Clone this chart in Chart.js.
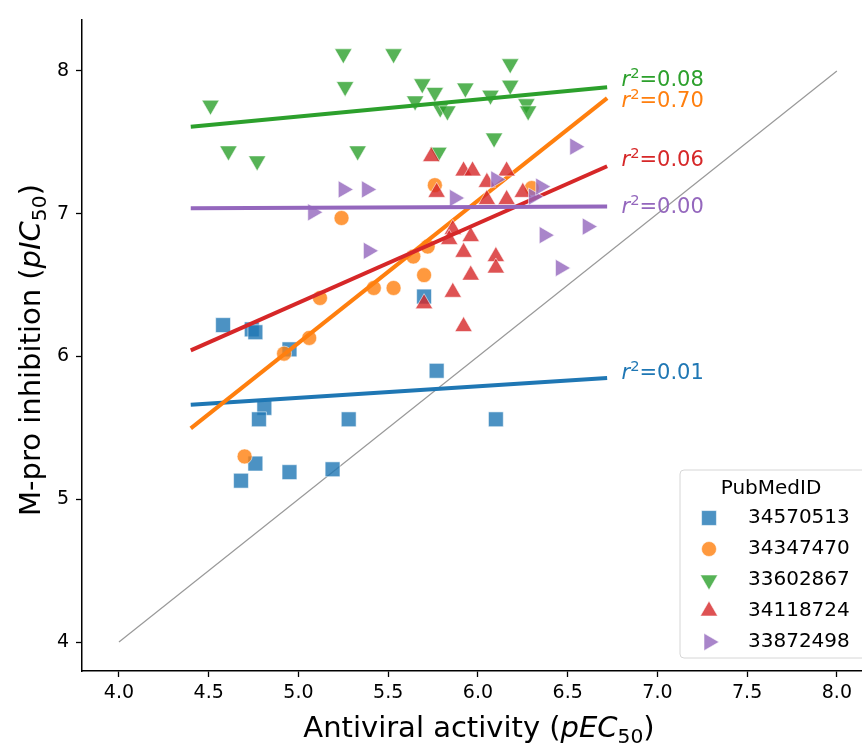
<!DOCTYPE html>
<html>
<head>
<meta charset="utf-8">
<script src="https://cdn.jsdelivr.net/npm/chart.js@4.4.1/dist/chart.umd.min.js"></script>
<style>
  html, body { margin: 0; padding: 0; background: #fff; }
  #wrap { width: 862px; height: 744px; }
</style>
</head>
<body>
<div id="wrap"><canvas id="chart" width="862" height="744"></canvas></div>
<script>
// data
const pubmedIds = ['34570513', '34347470', '33602867', '34118724', '33872498'];

const blueX = [4.58, 4.74, 4.76, 4.95, 5.70, 5.77, 4.81, 4.78, 5.28, 6.10, 4.76, 4.68, 4.95, 5.19];
const blueY = [6.22, 6.19, 6.17, 6.05, 6.42, 5.90, 5.64, 5.56, 5.56, 5.56, 5.25, 5.13, 5.19, 5.21];

const orangeX = [4.70, 4.92, 5.06, 5.12, 5.24, 5.42, 5.53, 5.64, 5.70, 5.72, 5.76, 6.30];
const orangeY = [5.30, 6.02, 6.13, 6.41, 6.97, 6.48, 6.48, 6.70, 6.57, 6.77, 7.20, 7.18];

const greenX = [4.51, 4.61, 4.77, 5.25, 5.53, 5.26, 5.33, 5.65, 5.69, 5.76, 5.78, 5.79, 5.83, 5.93, 6.07, 6.09, 6.18, 6.18, 6.27, 6.28];
const greenY = [7.76, 7.44, 7.37, 8.12, 8.12, 7.89, 7.44, 7.79, 7.91, 7.85, 7.43, 7.74, 7.72, 7.88, 7.83, 7.53, 8.05, 7.90, 7.77, 7.72];

const redX = [5.74, 5.92, 5.97, 6.16, 6.05, 5.77, 6.05, 6.16, 6.25, 5.86, 5.84, 5.96, 5.92, 6.10, 6.10, 5.96, 5.86, 5.70, 5.92];
const redY = [7.40, 7.30, 7.30, 7.30, 7.22, 7.15, 7.10, 7.10, 7.15, 6.89, 6.82, 6.84, 6.73, 6.70, 6.62, 6.57, 6.45, 6.37, 6.21];

const purpleX = [5.08, 5.25, 5.38, 5.39, 5.87, 6.10, 6.31, 6.35, 6.37, 6.46, 6.54, 6.61];
const purpleY = [7.01, 7.17, 7.17, 6.74, 7.11, 7.24, 7.12, 7.19, 6.85, 6.62, 7.47, 6.91];

// regression lines (slope / intercept) and r^2 as printed
const fitSlope = [0.081, 0.997, 0.119, 0.556, 0.005];
const fitIntercept = [5.305, 1.11, 7.086, 3.596, 7.017];
const fitRange = [4.4, 6.72];
const rSquared = ['0.01', '0.70', '0.08', '0.06', '0.00'];

const diagX = [4, 8];
const xTicks = [4.0, 4.5, 5.0, 5.5, 6.0, 6.5, 7.0, 7.5, 8.0];
const yTicks = [4, 5, 6, 7, 8];

// styles
const FONT = '"DejaVu Sans", sans-serif';
const rgb = ['31,119,180', '255,127,14', '44,160,44', '214,39,40', '148,103,189'];
const markers = [
    { style: 'rect', rot: 0, r: 10.5 },
    { style: 'circle', rot: 0, r: 7.5 },
    { style: 'triangle', rot: 180, r: 10 },
    { style: 'triangle', rot: 0, r: 10 },
    { style: 'triangle', rot: 90, r: 10 }
];
const labelX = 6.80;
const labelY = [5.84, 7.746, 7.895, 7.337, 7.003];

const seriesX = [blueX, orangeX, greenX, redX, purpleX];
const seriesY = [blueY, orangeY, greenY, redY, purpleY];

const datasets = [];
datasets.push({
    type: 'line',
    data: diagX.map(v => ({ x: v, y: v })),
    borderColor: '#999999',
    borderWidth: 1.2,
    pointRadius: 0,
    order: 20
});
seriesX.forEach((xs, i) => {
    datasets.push({
        type: 'scatter',
        label: pubmedIds[i],
        data: xs.map((x, j) => ({ x: x, y: seriesY[i][j] })),
        pointStyle: markers[i].style,
        rotation: markers[i].rot,
        pointRadius: markers[i].r,
        backgroundColor: 'rgba(' + rgb[i] + ',0.8)',
        borderColor: 'rgba(255,255,255,0.55)',
        borderWidth: 1,
        order: 10 - 2 * i
    });
    datasets.push({
        type: 'line',
        data: fitRange.map(x => ({ x: x, y: fitIntercept[i] + fitSlope[i] * x })),
        borderColor: 'rgb(' + rgb[i] + ')',
        borderWidth: 4,
        pointRadius: 0,
        order: 9 - 2 * i
    });
});

// text with italic / sub / superscript pieces
function runFont(run, size) {
    const s = (run.sub || run.sup) ? size * 0.7 : size;
    return (run.italic ? 'italic ' : '') + s + 'px ' + FONT;
}
function drawRich(ctx, runs, x, y, size, align) {
    let w = 0;
    runs.forEach(run => { ctx.font = runFont(run, size); w += ctx.measureText(run.t).width; });
    let cx = align === 'center' ? x - w / 2 : x;
    ctx.textAlign = 'left';
    ctx.textBaseline = 'alphabetic';
    runs.forEach(run => {
        ctx.font = runFont(run, size);
        const dy = run.sub ? size * 0.2 : (run.sup ? -size * 0.38 : 0);
        ctx.fillText(run.t, cx, y + dy);
        cx += ctx.measureText(run.t).width;
    });
}

function drawMarker(ctx, m, x, y) {
    ctx.beginPath();
    if (m.style === 'circle') {
        ctx.arc(x, y, m.r, 0, Math.PI * 2);
    } else if (m.style === 'rect') {
        const s = m.r * Math.SQRT1_2;
        ctx.rect(x - s, y - s, 2 * s, 2 * s);
    } else {
        let rad = m.rot * Math.PI / 180;
        ctx.moveTo(x + Math.sin(rad) * m.r, y - Math.cos(rad) * m.r);
        rad += 2 * Math.PI / 3;
        ctx.lineTo(x + Math.sin(rad) * m.r, y - Math.cos(rad) * m.r);
        rad += 2 * Math.PI / 3;
        ctx.lineTo(x + Math.sin(rad) * m.r, y - Math.cos(rad) * m.r);
        ctx.closePath();
    }
    ctx.fill();
    ctx.stroke();
}

const extras = {
    id: 'extras',
    afterDraw(chart) {
        const ctx = chart.ctx;
        const xs = chart.scales.x, ys = chart.scales.y;
        ctx.save();

        // r^2 labels
        rSquared.forEach((r, i) => {
            ctx.fillStyle = 'rgb(' + rgb[i] + ')';
            drawRich(ctx, [{ t: 'r', italic: true }, { t: '2', sup: true }, { t: '=' + r }],
                xs.getPixelForValue(labelX), ys.getPixelForValue(labelY[i]), 21, 'left');
        });

        // axis titles
        ctx.fillStyle = '#000';
        drawRich(ctx, [{ t: 'Antiviral activity (' }, { t: 'pEC', italic: true }, { t: '50', sub: true }, { t: ')' }],
            479, 737, 29, 'center');
        ctx.save();
        ctx.translate(40, 350);
        ctx.rotate(-Math.PI / 2);
        drawRich(ctx, [{ t: 'M-pro inhibition (' }, { t: 'pIC', italic: true }, { t: '50', sub: true }, { t: ')' }],
            0, 0, 29, 'center');
        ctx.restore();

        // legend box
        const bx = 680, by = 470, bw = 190, bh = 188, rr = 4;
        ctx.beginPath();
        ctx.moveTo(bx + rr, by);
        ctx.lineTo(bx + bw - rr, by);
        ctx.arcTo(bx + bw, by, bx + bw, by + rr, rr);
        ctx.lineTo(bx + bw, by + bh - rr);
        ctx.arcTo(bx + bw, by + bh, bx + bw - rr, by + bh, rr);
        ctx.lineTo(bx + rr, by + bh);
        ctx.arcTo(bx, by + bh, bx, by + bh - rr, rr);
        ctx.lineTo(bx, by + rr);
        ctx.arcTo(bx, by, bx + rr, by, rr);
        ctx.closePath();
        ctx.fillStyle = 'rgba(255,255,255,0.85)';
        ctx.fill();
        ctx.strokeStyle = '#d6d6d6';
        ctx.lineWidth = 1;
        ctx.stroke();

        ctx.fillStyle = '#000';
        ctx.font = '20px ' + FONT;
        ctx.textAlign = 'center';
        ctx.textBaseline = 'alphabetic';
        ctx.fillText('PubMedID', 771, 494);
        pubmedIds.forEach((id, i) => {
            const cy = 518 + i * 31;
            ctx.fillStyle = 'rgba(' + rgb[i] + ',0.8)';
            ctx.strokeStyle = 'rgba(255,255,255,0.55)';
            drawMarker(ctx, markers[i], 709, cy);
            ctx.fillStyle = '#000';
            ctx.font = '20px ' + FONT;
            ctx.textAlign = 'left';
            ctx.textBaseline = 'middle';
            ctx.fillText(id, 748, cy);
        });
        ctx.restore();
    }
};

new Chart(document.getElementById('chart'), {
    data: { datasets: datasets },
    options: {
        responsive: false,
        animation: false,
        events: [],
        devicePixelRatio: 1,
        layout: { autoPadding: false, padding: { top: 20, left: 0, right: 0, bottom: 0 } },
        plugins: { legend: { display: false }, tooltip: { enabled: false } },
        scales: {
            x: {
                type: 'linear',
                min: 3.794,
                max: 8.14,
                afterBuildTicks: s => { s.ticks = xTicks.map(v => ({ value: v })); },
                afterFit: s => { s.height = 73; s.paddingLeft = 0; s.paddingRight = 0; },
                ticks: {
                    callback: v => v.toFixed(1),
                    font: { size: 19, family: FONT },
                    color: '#000',
                    padding: 5,
                    maxRotation: 0,
                    autoSkip: false
                },
                grid: { drawOnChartArea: false, drawTicks: true, tickLength: 6, tickWidth: 1.3, tickColor: '#000' },
                border: { display: true, color: '#000', width: 1.5 }
            },
            y: {
                type: 'linear',
                min: 3.797,
                max: 8.357,
                afterBuildTicks: s => { s.ticks = yTicks.map(v => ({ value: v })); },
                afterFit: s => { s.width = 82; s.paddingTop = 0; s.paddingBottom = 0; },
                ticks: {
                    callback: v => String(v),
                    font: { size: 19, family: FONT },
                    color: '#000',
                    padding: 7,
                    autoSkip: false
                },
                grid: { drawOnChartArea: false, drawTicks: true, tickLength: 6, tickWidth: 1.3, tickColor: '#000' },
                border: { display: true, color: '#000', width: 1.5 }
            }
        }
    },
    plugins: [extras]
});
</script>
</body>
</html>
